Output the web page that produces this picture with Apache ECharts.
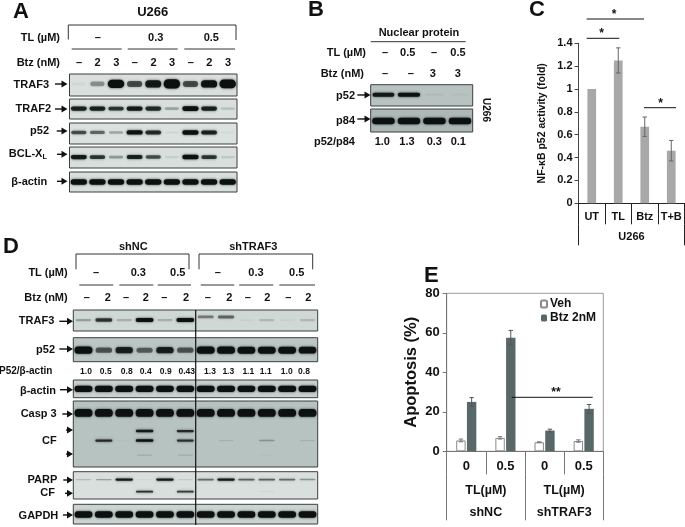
<!DOCTYPE html>
<html><head><meta charset="utf-8">
<style>html,body{margin:0;padding:0;background:#fff}#c{width:685px;height:527px}</style>
<script src="https://cdn.jsdelivr.net/npm/echarts@6/dist/echarts.min.js"></script>
</head><body><div id="c"></div>
<script>
// ---------- DATA: bar charts ----------
const cCategories = ['UT','TL','Btz','T+B'];
const cValues = [1, 1.25, 0.67, 0.46];
const cErrors = [0, 0.11, 0.085, 0.09];
const cGroup = ['U266'];

const eCategories = ['0','0.5','0','0.5'];
const eVeh = [5.5, 6.8, 4.6, 5.2];
const eVehErr = [0.7, 0.6, 0.2, 0.6];
const eBtz = [25, 57.5, 10.5, 21.5];
const eBtzErr = [2.2, 3.7, 0.7, 2.2];
const eUnit = ['TL(µM)','TL(µM)'];
const eGroups = ['shNC','shTRAF3'];

// ---------- DATA: blot band intensities per lane ----------
const A_TRAF3 = [.04,.35,1.1,.6,.85,1.3,.6,.9,1.2];
const A_TRAF2 = [.8,.8,.7,.85,.75,.28,.95,.8,.18];
const A_p52   = [.6,.5,.28,.9,.75,.08,.95,.8,.05];
const A_BCL   = [.85,.7,.32,.8,.6,.1,.95,.7,.13];
const A_actin = [.95,.95,.95,.95,.95,.95,.95,.95,.95];
const B_p52 = [.85,.95,.07,.04];
const B_p84 = [1,1,1,1];
const D_TRAF3  = [.28,.7,.22,.95,.22,.95,0,0,.06,.18,.06,.18];
const D_TRAF3b = [0,0,0,0,0,0,.42,.5,0,0,0,0];
const D_p52    = [1,.55,.8,.5,.8,.55,1,1,.95,.95,.95,.9];
const D_actin  = [1,1,1,1,.95,.95,1,1,.95,1,1,1];
const D_casp   = [1,1,1,1,1,1,1,1,1,1,1,1];
const D_cfHigh = [0,0,0,.85,0,.75,0,0,0,0,0,0];
const D_cfMid  = [0,.75,.03,.9,0,.7,0,.12,0,.28,0,.12];
const D_cfLow  = [0,0,0,.15,0,.15,0,0,0,.04,0,0];
const D_parp   = [.2,.3,.85,.05,.85,.12,.5,.85,.55,.55,.5,.35];
const D_parpCF = [0,0,0,.75,0,.7,0,0,0,.08,0,0];
const D_gapdh  = [.95,.95,.95,.95,.95,.95,.95,.95,.95,.95,.95,.95];

// ---------- DATA: lane labels ----------
const A_doses = ['–','2','3','–','2','3','–','2','3'];
const B_TL = ['–','0.5','–','0.5'];
const B_Btz = ['–','–','3','3'];
const B_ratio = ['1.0','1.3','0.3','0.1'];
const D_doses = ['–','2','–','2','–','2','–','2','–','2','–','2'];
const D_ratio = ['1.0','0.5','0.8','0.4','0.9','0.43','1.3','1.3','1.1','1.1','1.0','0.8'];

// ---------- LAYOUT ----------
const FONT = '"Liberation Sans", Arial, sans-serif';
const panels = [
 {r:[69.5,74,167.5,22],bg:'#d8dfdc',rows:[{y:.45,h:.36,v:A_TRAF3}]},
 {r:[69.5,99,167.5,20],bg:'#d8dfdc',rows:[{y:.48,h:.24,v:A_TRAF2}]},
 {r:[69.5,123,167.5,21],bg:'#dbe1de',rows:[{y:.45,h:.22,v:A_p52}]},
 {r:[69.5,147,167.5,21],bg:'#d8dfdc',rows:[{y:.48,h:.22,v:A_BCL}]},
 {r:[69.5,172,167.5,20],bg:'#d8dfdc',rows:[{y:.5,h:.28,v:A_actin}]},
 {r:[370.7,84.7,102,21.3],bg:'#b8c2c0',rows:[{y:.47,h:.2,v:B_p52}]},
 {r:[370.7,109,102,23],bg:'#aeb9b7',rows:[{y:.52,h:.28,v:B_p84}]},
 {r:[73.3,310,244.4,21],bg:'#d0d8d5',rows:[{y:.48,h:.2,v:D_TRAF3},{y:.33,h:.2,v:D_TRAF3b}]},
 {r:[73.3,337.7,244.4,24],bg:'#bcc6c4',rows:[{y:.52,h:.3,v:D_p52}]},
 {r:[73.3,380,244.4,17.7],bg:'#c8d1cf',rows:[{y:.5,h:.36,v:D_actin}]},
 {r:[73.3,401,244.4,66],bg:'#b7c3c1',rows:[{y:.18,h:.12,v:D_casp},{y:.455,h:.04,v:D_cfHigh},{y:.6,h:.04,v:D_cfMid},{y:.82,h:.035,v:D_cfLow}]},
 {r:[73.3,471.7,244.4,27.3],bg:'#d8dfdc',rows:[{y:.29,h:.09,v:D_parp},{y:.73,h:.08,v:D_parpCF}]},
 {r:[73.3,504.3,244.4,19.7],bg:'#ccd4d2',rows:[{y:.52,h:.34,v:D_gapdh}]}
];

function bandRender(params, api){
  const p = api.coord([api.value(0), api.value(1)]);
  const laneW = api.size([1,0])[0];
  const i = api.value(2);
  const hv = api.size([0, api.value(3)])[1];
  const H = hv*(.4+.6*Math.min(i,1.3));
  const W = laneW*(.72+.16*Math.min(i,1));
  const a = Math.min(1,Math.pow(i,1.15)*1.1).toFixed(2);
  return {type:'rect',shape:{x:p[0]-W/2,y:p[1]-H/2,width:W,height:H,r:H/2},
    style:{fill:'rgba(12,16,16,'+a+')',shadowBlur:2.5,shadowColor:'rgba(12,16,16,'+Math.min(.8,i).toFixed(2)+')'}};
}
function errRender(shift,color){
  return function(params,api){
    const top=api.coord([api.value(0),api.value(2)]);
    const bot=api.coord([api.value(0),api.value(1)]);
    const x=top[0]+shift, cap=2.2;
    const st={stroke:color,lineWidth:1,fill:null};
    return {type:'group',children:[
      {type:'line',shape:{x1:x,y1:top[1],x2:x,y2:bot[1]},style:st},
      {type:'line',shape:{x1:x-cap,y1:top[1],x2:x+cap,y2:top[1]},style:st},
      {type:'line',shape:{x1:x-cap,y1:bot[1],x2:x+cap,y2:bot[1]},style:st}]};
  };
}
const errData=(v,e)=>v.map((m,k)=>[k,m-e[k],m+e[k]]);

// ---------- graphics ----------
const g=[];
function T(text,x,y,align,size,extra){
  g.push(Object.assign({type:'text',x:x,y:y,z:100,silent:true,
    style:{text:text,fill:'#111',font:'bold '+(size||11)+'px '+FONT,align:align||'center',verticalAlign:'middle'}},extra||{}));
}
function L(pts,color,w){
  g.push({type:'polyline',z:100,silent:true,shape:{points:pts},style:{stroke:color||'#222',lineWidth:w||1,fill:null}});
}
function Ar(x1,x2,y){
  L([[x1,y],[x2-3,y]],'#111',1.4);
  g.push({type:'polygon',z:100,silent:true,shape:{points:[[x2-6,y-3.5],[x2,y],[x2-6,y+3.5]]},style:{fill:'#111'}});
}
// panel letters
T('A',13,12,'left',22); T('B',308,10,'left',22); T('C',529,10,'left',22); T('D',3,247,'left',22); T('E',424,276,'left',22);
// --- A
T('U266',152.7,12.7,'center',13);
L([[68.3,39.5],[68.3,25],[236,25],[236,40]],'#333');
T('TL (µM)',60,38,'right');
T('–',97.7,38); T('0.3',155.7,38); T('0.5',211.3,38);
L([[71.7,49],[121.7,49]],'#333'); L([[127.7,49],[177.7,49]],'#333'); L([[184.3,49],[235,49]],'#333');
T('Btz (nM)',60,62.7,'right');
A_doses.forEach((s,k)=>T(s,79+k*18.62,62.7));
T('TRAF3',49,85,'right'); Ar(55,67.5,84);
T('TRAF2',51,109.3,'right'); Ar(55,67.5,109);
T('p52',49,131.3,'right'); Ar(56.7,67.5,131);
g.push({type:'text',x:47,y:154.3,z:100,silent:true,style:{text:'{a|BCL-X}{b|L}',align:'right',verticalAlign:'middle',fill:'#111',rich:{a:{font:'bold 11px '+FONT,fill:'#111'},b:{font:'bold 7.5px '+FONT,fill:'#111',verticalAlign:'bottom',padding:[5,0,0,0]}}}});
Ar(57,67.5,154.3);
T('β-actin',47.3,181.7,'right'); Ar(57,67.5,181.3);
// --- B
T('Nuclear protein',419,32.7);
L([[370.7,41.7],[465.7,41.7]],'#333');
T('TL (µM)',366,53.3,'right');
[385,407.7,434,458].forEach((x,k)=>T(B_TL[k],x,53.3));
T('Btz (nM)',364,74,'right');
[385,410.7,432.7,457.7].forEach((x,k)=>T(B_Btz[k],x,74));
T('p52',355,95.7,'right'); Ar(357.3,370.5,95);
T('p84',355,120.7,'right'); Ar(357.3,370.5,119);
T('p52/p84',314,141.7,'left');
[382.3,407,434.3,458.3].forEach((x,k)=>T(B_ratio[k],x,141.7));
T('U266',486,110,'center',10,{rotation:-Math.PI/2});
// --- C annotations
L([[586.7,19],[644,19]],'#111'); T('*',614,14.5,'center',12);
L([[586.7,38.3],[619.3,38.3]],'#111'); T('*',601.7,34,'center',12);
L([[644,107.7],[676,107.7]],'#111'); T('*',660.7,103.5,'center',12);
// --- D
T('shNC',133.3,247.3); T('shTRAF3',253.3,247.3);
L([[76,269.3],[76,254],[189,254],[189,269.3]],'#333');
L([[199,269.3],[199,254],[312.7,254],[312.7,269.3]],'#333');
T('TL (µM)',67.7,272.7,'right');
[[96,'–'],[138.3,'0.3'],[177.7,'0.5'],[217.7,'–'],[256,'0.3'],[296.7,'0.5']].forEach(a=>T(a[1],a[0],272.7));
[[79.3,113.3],[119.3,153.3],[157.7,191],[200.7,234.3],[239.3,273.3],[279.3,315]].forEach(a=>L([[a[0],285],[a[1],285]],'#333'));
T('Btz (nM)',67.7,298.3,'right');
[86.7,107.7,126,145.7,164.3,186,207.7,229.3,247.7,267.3,288.3,308.3].forEach((x,k)=>T(D_doses[k],x,298.3));
T('TRAF3',54.3,321.3,'right'); Ar(59.3,73,321.3);
T('p52',55,350.3,'right'); Ar(59.3,73,349);
T('P52/β-actin',-1,371.3,'left',10);
[86,105.7,126.7,145.7,165.7,186.7,210,228.3,248.3,265.7,286.7,304].forEach((x,k)=>T(D_ratio[k],x,371.7,'center',8.5));
T('β-actin',56,391,'right'); Ar(60,73,389.7);
T('Casp 3',56.7,414.3,'right'); Ar(62.3,73,414);
Ar(66,73,430); T('CF',56.7,441,'right'); Ar(66,73,454);
T('PARP',57.3,480,'right'); Ar(63.3,73,480);
T('CF',55,493.3,'right'); Ar(65,73,493.3);
T('GAPDH',58.3,515.7,'right'); Ar(63,73,515);
L([[195.7,310],[195.7,525]],'#111',1.2);
// --- E annotations
L([[511.7,397.3],[592.7,397.3]],'#111'); T('**',556,393,'center',12);

// ---------- option assembly ----------
const grid=[],xAxis=[],yAxis=[],series=[];
panels.forEach(p=>{
  const gi=grid.length;
  grid.push({left:p.r[0],top:p.r[1],width:p.r[2],height:p.r[3],show:true,backgroundColor:p.bg,borderColor:'#3a3f3f',borderWidth:1});
  xAxis.push({type:'category',gridIndex:gi,show:false,data:p.rows[0].v.map((_,k)=>k)});
  yAxis.push({type:'value',gridIndex:gi,show:false,min:0,max:1,inverse:true});
  const data=[];
  p.rows.forEach(r=>r.v.forEach((val,k)=>{if(val>0)data.push([k,r.y,val,r.h]);}));
  series.push({type:'custom',silent:true,xAxisIndex:xAxis.length-1,yAxisIndex:yAxis.length-1,clip:true,renderItem:bandRender,data:data,encode:{x:0,y:1}});
});

// chart C
const gC=grid.length;
grid.push({left:578.5,top:43.3,width:106,height:160});
const xC=xAxis.length;
xAxis.push({type:'category',gridIndex:gC,data:cCategories,position:'bottom',
  axisLine:{show:true,lineStyle:{color:'#222'}},axisTick:{show:true,length:21,lineStyle:{color:'#222'}},
  axisLabel:{margin:8.5,color:'#111',fontWeight:'bold',fontSize:11,fontFamily:FONT,interval:0}});
xAxis.push({type:'category',gridIndex:gC,data:cGroup,position:'bottom',offset:21,
  axisLine:{show:false},axisTick:{show:true,length:21,lineStyle:{color:'#222'}},
  axisLabel:{margin:7.5,color:'#111',fontWeight:'bold',fontSize:11,fontFamily:FONT}});
const yC=yAxis.length;
yAxis.push({type:'value',gridIndex:gC,min:0,max:1.4,interval:.2,splitLine:{show:false},
  name:'NF-κB p52 activity (fold)',nameLocation:'middle',nameGap:31,
  nameTextStyle:{color:'#111',fontWeight:'bold',fontSize:10.5,fontFamily:FONT},
  axisLine:{show:true,lineStyle:{color:'#444'}},axisTick:{show:true,length:4,lineStyle:{color:'#444'}},
  axisLabel:{margin:6,color:'#111',fontWeight:'bold',fontSize:11,fontFamily:FONT,
    formatter:v=>String(+v.toFixed(1))}});
series.push({type:'bar',xAxisIndex:xC,yAxisIndex:yC,data:cValues,barWidth:8.7,itemStyle:{color:'#a8a8a8'}});
series.push({type:'custom',xAxisIndex:xC,yAxisIndex:yC,renderItem:errRender(0,'#666'),
  data:errData(cValues,cErrors).filter((d,k)=>cErrors[k]>0),encode:{x:0,y:[1,2]},z:5});

// chart E
const gE=grid.length;
grid.push({left:446.7,top:293.3,width:156.6,height:158,show:true,borderColor:'#9a9a9a',borderWidth:1,backgroundColor:'transparent'});
const xE=xAxis.length;
const eAxisLine={show:true,lineStyle:{color:'#777'}};
xAxis.push({type:'category',gridIndex:gE,data:eCategories,position:'bottom',
  axisLine:eAxisLine,axisTick:{show:true,length:23,lineStyle:{color:'#777'}},
  axisLabel:{margin:9,color:'#111',fontWeight:'bold',fontSize:13,fontFamily:FONT,interval:0}});
xAxis.push({type:'category',gridIndex:gE,data:eUnit,position:'bottom',offset:23,
  axisLine:{show:false},axisTick:{show:false},
  axisLabel:{margin:10,color:'#111',fontWeight:'bold',fontSize:12.5,fontFamily:FONT,interval:0}});
xAxis.push({type:'category',gridIndex:gE,data:eGroups,position:'bottom',offset:23,
  axisLine:{show:false},axisTick:{show:true,length:46,lineStyle:{color:'#777'}},
  axisLabel:{margin:32,color:'#111',fontWeight:'bold',fontSize:12.5,fontFamily:FONT,interval:0}});
const yE=yAxis.length;
yAxis.push({type:'value',gridIndex:gE,min:0,max:80,interval:20,splitLine:{show:false},
  name:'Apoptosis (%)',nameLocation:'middle',nameGap:27,
  nameTextStyle:{color:'#111',fontWeight:'bold',fontSize:16.5,fontFamily:FONT},
  axisLine:eAxisLine,axisTick:{show:true,length:4,lineStyle:{color:'#777'}},
  axisLabel:{margin:7,color:'#111',fontWeight:'bold',fontSize:13,fontFamily:FONT}});
series.push({name:'Veh',type:'bar',xAxisIndex:xE,yAxisIndex:yE,data:eVeh,barWidth:9.4,barGap:'14%',
  itemStyle:{color:'#fff',borderColor:'#8a8a8a',borderWidth:1}});
series.push({name:'Btz 2nM',type:'bar',xAxisIndex:xE,yAxisIndex:yE,data:eBtz,barWidth:9.4,barGap:'14%',
  itemStyle:{color:'#586767'}});
series.push({type:'custom',xAxisIndex:xE,yAxisIndex:yE,renderItem:errRender(-5.35,'#777'),data:errData(eVeh,eVehErr),encode:{x:0,y:[1,2]},z:5});
series.push({type:'custom',xAxisIndex:xE,yAxisIndex:yE,renderItem:errRender(5.35,'#555'),data:errData(eBtz,eBtzErr),encode:{x:0,y:[1,2]},z:5});

const chart=echarts.init(document.getElementById('c'),null,{renderer:'canvas'});
chart.setOption({
  animation:false,backgroundColor:'#fff',
  textStyle:{fontFamily:FONT},
  legend:{data:['Veh','Btz 2nM'],orient:'vertical',left:535,top:293,itemWidth:6,itemHeight:7,itemGap:2,
    textStyle:{color:'#111',fontWeight:'bold',fontSize:12,fontFamily:FONT,padding:[0,0,0,-2]},selectedMode:false},
  tooltip:{show:false},
  grid:grid,xAxis:xAxis,yAxis:yAxis,series:series,graphic:{elements:g}
});
</script></body></html>
